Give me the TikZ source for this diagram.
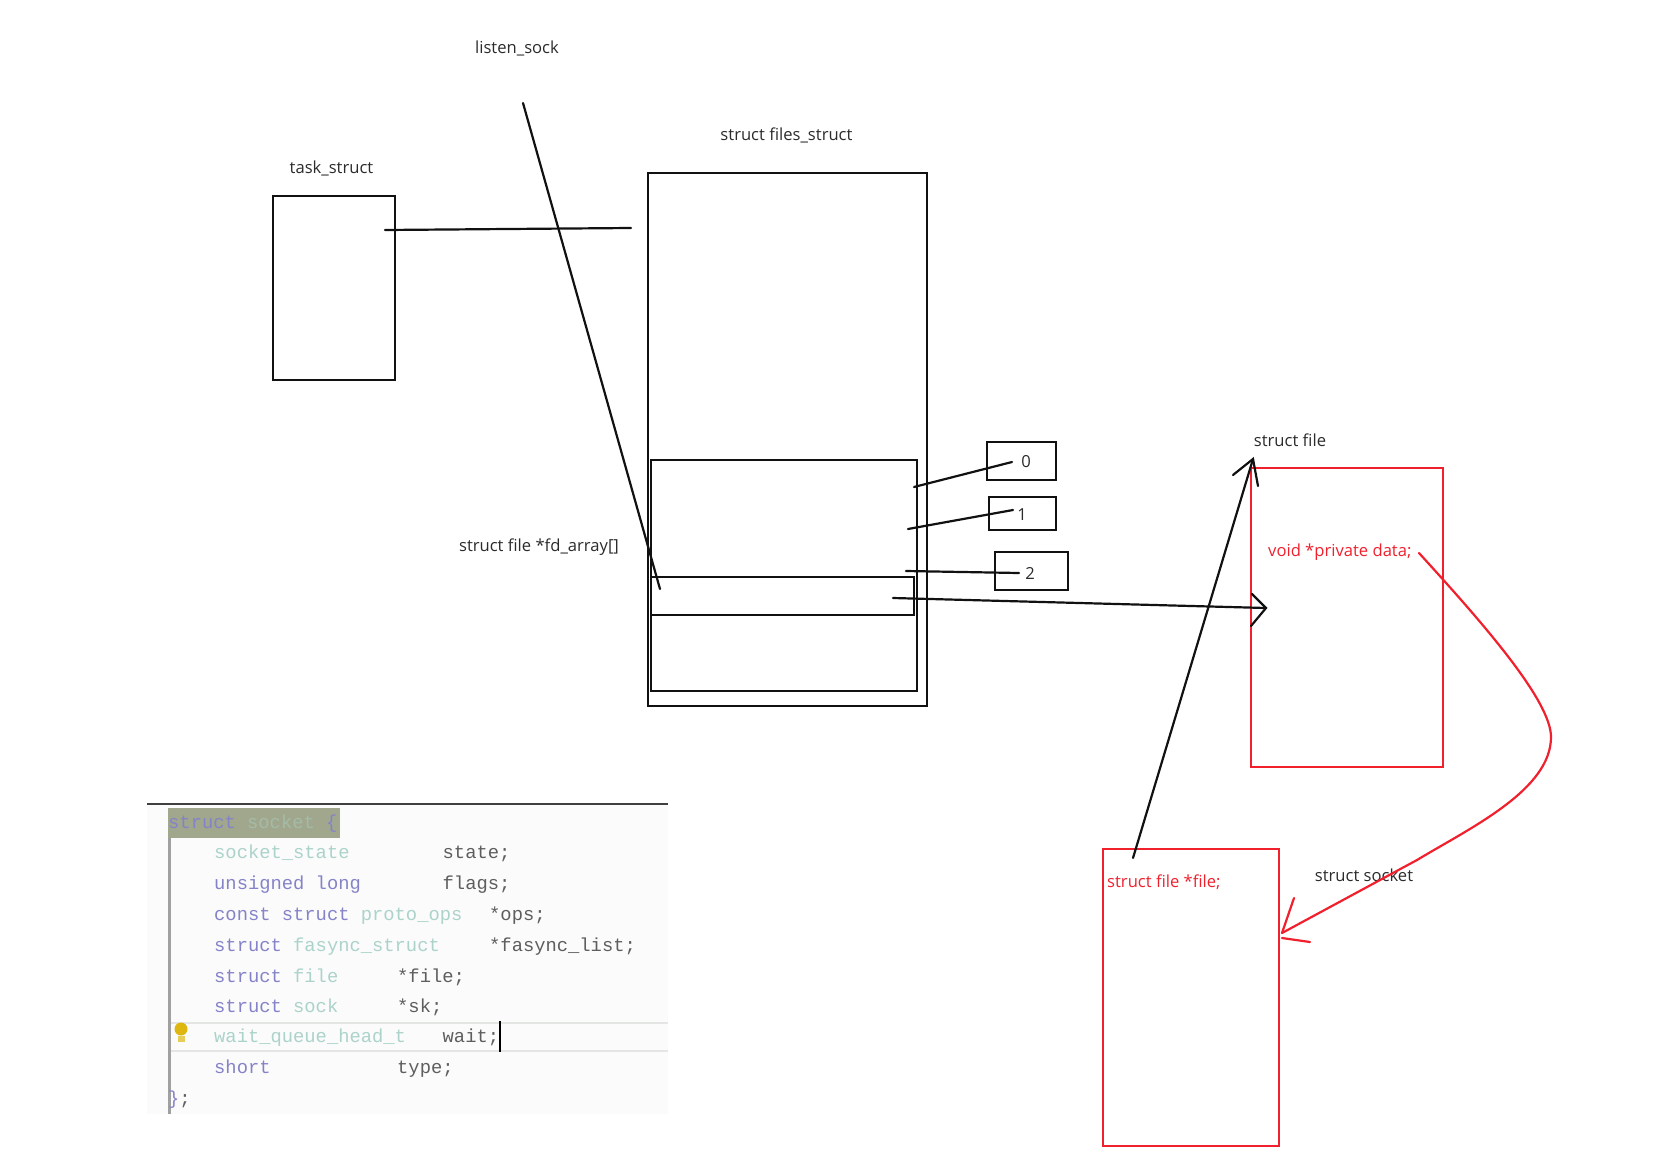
\documentclass[tikz,border=0pt]{standalone}
\usepackage{fontspec}
\setmainfont{Open Sans}
\setmonofont{Liberation Mono}
\definecolor{Ink}{HTML}{111111}
\definecolor{Label}{HTML}{2B2B2B}
\definecolor{Flame}{HTML}{F0202D}
\definecolor{CodeKey}{HTML}{8583C8}
\definecolor{CodeType}{HTML}{ABD3CA}
\definecolor{CodeName}{HTML}{5E5E5E}
\definecolor{CodeBg}{HTML}{FBFBFB}
\definecolor{CodeHead}{HTML}{A0A78C}
\definecolor{CodeRule}{HTML}{E4E6E4}
\definecolor{Gutter}{HTML}{A0A0A0}
\definecolor{Bulb}{HTML}{DDB60F}
\newcommand{\kw}[1]{\textcolor{CodeKey}{#1}}
\newcommand{\ty}[1]{\textcolor{CodeType}{#1}}
\tikzset{
  box/.style={draw=Ink, line width=2pt, inner sep=0pt},
  redbox/.style={draw=Flame, line width=2pt, inner sep=0pt},
  caption/.style={text=Label, font=\fontsize{16.6}{20}\selectfont, inner sep=0pt},
  redtext/.style={text=Flame, font=\fontsize{16.6}{20}\selectfont, inner sep=0pt, anchor=west},
  code/.style={text=CodeName, font=\fontsize{18.8}{22}\selectfont\ttfamily, inner sep=0pt, anchor=base west},
  wire/.style={draw=Ink, line width=2.2pt, line cap=round, line join=miter},
  redwire/.style={draw=Flame, line width=2.2pt, line cap=round}
}

\begin{document}
\begin{tikzpicture}[x=1pt,y=-1pt]
    \useasboundingbox (0,0) rectangle (1668,1159);
    % code panel
    \node[fill=CodeBg,minimum width=521pt,minimum height=310pt,inner sep=0pt] (panel) at (407.5,959) {};
    \node[fill=CodeHead,minimum width=172pt,minimum height=30pt,inner sep=0pt] (head) at (254,823) {};
    \coordinate (ruletopl) at (147,804);
    \coordinate (ruletopr) at (668,804);
    \coordinate (guttert) at (169,838);
    \coordinate (gutterb) at (169,1114);
    \coordinate (curl) at (169,1023);
    \coordinate (curr) at (668,1023);
    \coordinate (curbl) at (169,1051);
    \coordinate (curbr) at (668,1051);
    \coordinate (caret) at (500,1021);
    \coordinate (caretb) at (500,1052);
    \draw[draw=CodeRule,line width=1.5pt] (curl) -- (curr);
    \draw[draw=CodeRule,line width=1.5pt] (curbl) -- (curbr);
    \draw[draw=black!75,line width=2.5pt] (ruletopl) -- (ruletopr);
    \draw[draw=Gutter,line width=3pt] (guttert) -- (gutterb);
    \draw[draw=black,line width=2pt] (caret) -- (caretb);
    \node[circle,fill=Bulb,minimum size=13pt,inner sep=0pt] (bulb) at (181,1029) {};
    \node[fill=Bulb!70,minimum width=7pt,minimum height=6pt,inner sep=0pt] (bulbfoot) at (181,1039) {};

    \node[code] (l0) at (168,828) {\kw{struct} \textcolor{CodeType!45!CodeHead}{socket} \kw{\{}};
    \node[code] (l1) at (214,858) {\ty{socket\_state}};
    \node[code] (l1n) at (442.5,858) {state;};
    \node[code] (l2) at (214,889) {\kw{unsigned long}};
    \node[code] (l2n) at (442.5,889) {flags;};
    \node[code] (l3) at (214,920) {\kw{const struct} \ty{proto\_ops}};
    \node[code] (l3n) at (489,920) {*ops;};
    \node[code] (l4) at (214,951) {\kw{struct} \ty{fasync\_struct}};
    \node[code] (l4n) at (489,951) {*fasync\_list;};
    \node[code] (l5) at (214,982) {\kw{struct} \ty{file}};
    \node[code] (l5n) at (397,982) {*file;};
    \node[code] (l6) at (214,1012) {\kw{struct} \ty{sock}};
    \node[code] (l6n) at (397,1012) {*sk;};
    \node[code] (l7) at (214,1042) {\ty{wait\_queue\_head\_t}};
    \node[code] (l7n) at (442.5,1042) {wait;};
    \node[code] (l8) at (214,1073) {\kw{short}};
    \node[code] (l8n) at (397,1073) {type;};
    \node[code] (l9) at (168,1104) {\kw{\}};};

    % boxes
    \node[box,minimum width=122pt,minimum height=184pt] (task) at (334,288) {};
    \node[box,minimum width=279pt,minimum height=533pt] (files) at (787.5,439.5) {};
    \node[box,minimum width=266pt,minimum height=231pt] (fdarray) at (784,575.5) {};
    \node[box,minimum width=263pt,minimum height=38pt] (slot) at (782.5,596) {};
    \node[box,minimum width=69pt,minimum height=38pt] (fd0) at (1021.5,461) {};
    \node[box,minimum width=67pt,minimum height=33pt] (fd1) at (1022.5,513.5) {};
    \node[box,minimum width=73pt,minimum height=38pt] (fd2) at (1031.5,571) {};
    \node[redbox,minimum width=192pt,minimum height=299pt] (file) at (1347,617.5) {};
    \node[redbox,minimum width=176pt,minimum height=297pt] (socket) at (1191,997.5) {};

    % labels
    \node[caption] (listen) at (517,48) {listen\_sock};
    \node[caption] (tasklabel) at (331.5,168) {task\_struct};
    \node[caption] (fileslabel) at (786.5,135) {struct files\_struct};
    \node[caption] (fdlabel) at (539,547) {struct file *fd\_array[]};
    \node[caption] (filelabel) at (1290,440) {struct file};
    \node[caption] (socketlabel) at (1364,875) {struct socket};
    \node[caption] (num0) at (1026,462) {0};
    \node[caption] (num1) at (1022,515) {1};
    \node[caption] (num2) at (1030,573) {2};
    \node[redtext] (private) at (1268,552) {void *private data;};
    \node[redtext] (filefield) at (1107,882) {struct file *file;};

    % connectors
    \coordinate (taskout) at (385,230);
    \coordinate (filesin) at (631,228);
    \coordinate (listenout) at (523,103);
    \coordinate (listenin) at (660,589);
    \coordinate (fdzero) at (914,487);
    \coordinate (zeroin) at (1012,462);
    \coordinate (fdone) at (908,529);
    \coordinate (onein) at (1013,510);
    \coordinate (fdtwo) at (906,571);
    \coordinate (twoin) at (1019,573);
    \coordinate (slotout) at (893,598);
    \coordinate (slottip) at (1266,608);
    \coordinate (slotup) at (1252,594);
    \coordinate (slotdown) at (1251,626);
    \coordinate (socketout) at (1133,858);
    \coordinate (filetip) at (1253,459);
    \coordinate (fileleft) at (1233,475);
    \coordinate (fileright) at (1258,486);
    \coordinate (privateout) at (1419,553);
    \coordinate (bend) at (1551,737);
    \coordinate (straight) at (1417,860);
    \coordinate (sockettip) at (1282,933);
    \coordinate (socketup) at (1294,898);
    \coordinate (socketfoot) at (1282,938);
    \coordinate (socketlow) at (1310,942);
    \draw[wire] (taskout) -- (filesin);
    \draw[wire] (listenout) -- (listenin);
    \draw[wire] (fdzero) -- (zeroin);
    \draw[wire] (fdone) -- (onein);
    \draw[wire] (fdtwo) -- (twoin);
    \draw[wire] (slotout) -- (slottip);
    \draw[wire] (slotup) -- (slottip) -- (slotdown);
    \draw[wire] (socketout) -- (filetip);
    \draw[wire] (fileleft) -- (filetip) -- (fileright);
    \draw[redwire] (privateout) .. controls (1480,620) and (1551,700) .. (bend)
      .. controls (1551,790) and (1470,828) .. (straight) -- (sockettip);
    \draw[redwire] (socketup) -- (sockettip);
    \draw[redwire] (socketfoot) -- (socketlow);
\end{tikzpicture}
\end{document}
